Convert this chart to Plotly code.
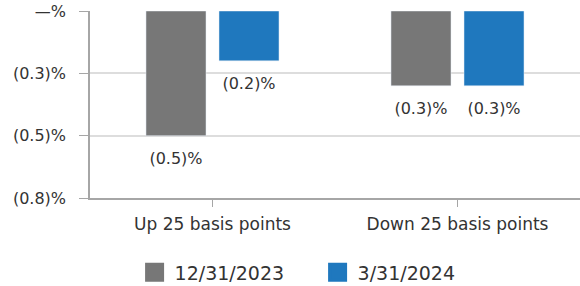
import plotly.graph_objects as go

categories = ["Up 25 basis points", "Down 25 basis points"]
series_names = ["12/31/2023", "3/31/2024"]
values_2023 = [-0.5, -0.3]
values_2024 = [-0.2, -0.3]
labels_2023 = ["(0.5)%", "(0.3)%"]
labels_2024 = ["(0.2)%", "(0.3)%"]
y_tick_vals = [0, -0.25, -0.5, -0.75]
y_tick_text = ["\u2014%", "(0.3)%", "(0.5)%", "(0.8)%"]
colors = ["#777777", "#1F78BE"]

FONT = "DejaVu Sans"
fig = go.Figure()
for i, (name, vals, labs, col) in enumerate([
    (series_names[0], values_2023, labels_2023, colors[0]),
    (series_names[1], values_2024, labels_2024, colors[1]),
]):
    grp = f"g{i}"
    fig.add_trace(go.Bar(
        x=categories, y=vals, name=name, marker_color=col,
        offsetgroup=grp, showlegend=False,
    ))
    fig.add_trace(go.Scatter(
        x=categories, y=vals, mode="markers+text", text=labs,
        textposition="bottom center", offsetgroup=grp,
        marker=dict(size=24, color="rgba(0,0,0,0)"),
        textfont=dict(size=16, color="#333333", family=FONT),
        showlegend=False, cliponaxis=False, hoverinfo="skip",
    ))
    fig.add_trace(go.Scatter(
        x=[None], y=[None], mode="markers", name=name, offsetgroup=grp,
        marker=dict(symbol="square", size=16, color=col, line=dict(width=3, color=col)),
    ))

fig.update_layout(
    width=580, height=286,
    margin=dict(l=90, r=0, t=11, b=88, autoexpand=False),
    paper_bgcolor="white", plot_bgcolor="white",
    barmode="group", bargap=0.404, bargroupgap=0.178,
    scattermode="group", scattergap=0.404,
    font=dict(family=FONT, size=16, color="#333333"),
    legend=dict(orientation="h", x=0.091, xanchor="left", y=-0.398, yanchor="middle",
                font=dict(size=19), entrywidth=138, entrywidthmode="pixels",
                itemsizing="trace"),
)
fig.update_xaxes(
    automargin=False,
    showline=True, linecolor="#a6a6a6", linewidth=1.5,
    ticks="outside", ticklen=7, tickcolor="#a6a6a6",
    ticklabelstandoff=3,
    tickfont=dict(size=17), showgrid=False,
)
fig.update_yaxes(
    automargin=False,
    range=[-0.75, 0], tickvals=y_tick_vals, ticktext=y_tick_text,
    showline=True, linecolor="#a6a6a6", linewidth=1.5,
    ticks="outside", ticklen=9, tickcolor="#a6a6a6",
    ticklabelstandoff=10,
    showgrid=True, gridcolor="#dddddd", gridwidth=1.5,
    zeroline=False, tickfont=dict(size=16),
)
fig.write_html("out.html", config={"displayModeBar": False},
               post_script="document.body.style.margin='0';document.body.style.overflow='hidden';")
